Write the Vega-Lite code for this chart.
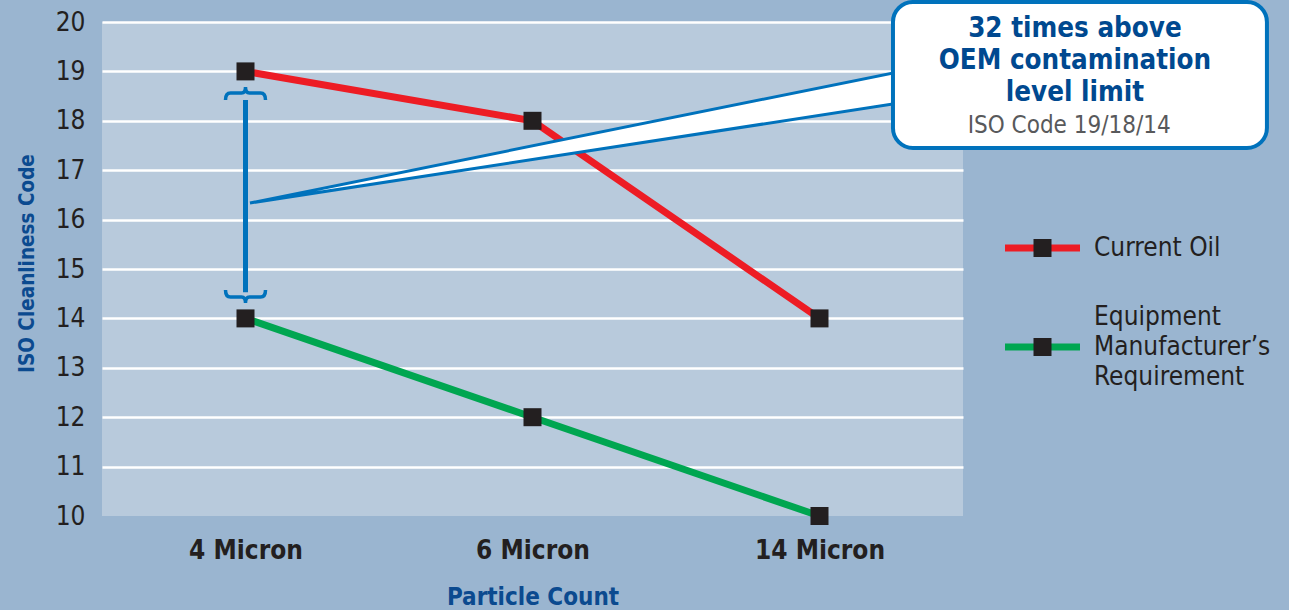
{
  "$schema": "https://vega.github.io/schema/vega-lite/v6.json",
  "width": 861,
  "height": 494,
  "autosize": {"type": "none"},
  "padding": {"left": 102, "top": 22, "right": 326, "bottom": 94},
  "background": "#9ab5d0",
  "config": {
    "view": {"fill": "#b8cadc", "stroke": null},
    "font": "Liberation Sans Narrow, DejaVu Sans Condensed, sans-serif"
  },
  "datasets": {
    "iso": [
      {"particle": "4 Micron", "series": "Current Oil", "code": 19},
      {"particle": "6 Micron", "series": "Current Oil", "code": 18},
      {"particle": "14 Micron", "series": "Current Oil", "code": 14},
      {"particle": "4 Micron", "series": "Equipment Manufacturer’s Requirement", "code": 14},
      {"particle": "6 Micron", "series": "Equipment Manufacturer’s Requirement", "code": 12},
      {"particle": "14 Micron", "series": "Equipment Manufacturer’s Requirement", "code": 10}
    ],
    "pointer": [
      {"px": 0.0157, "top": 16.336, "bottom": 16.336},
      {"px": 2.256, "top": 18.968, "bottom": 18.34}
    ]
  },
  "resolve": {"scale": {"x": "independent"}},
  "layer": [
    {
      "data": {"name": "iso"},
      "encoding": {
        "x": {
          "field": "particle", "type": "nominal", "sort": null,
          "scale": {"type": "point", "padding": 0.5},
          "axis": {
            "title": "Particle Count", "labelAngle": 0, "ticks": false, "domain": false,
            "labelFontSize": 26, "labelFontWeight": "bold", "labelColor": "#231f20",
            "labelPadding": 21, "titleFontSize": 24, "titleFontWeight": "bold",
            "titleColor": "#0b4a8f", "titlePadding": 22
          }
        },
        "y": {
          "field": "code", "type": "quantitative",
          "scale": {"domain": [10, 20], "nice": false, "zero": false},
          "axis": {
            "title": "ISO Cleanliness Code", "values": [10, 11, 12, 13, 14, 15, 16, 17, 18, 19, 20],
            "ticks": false, "domain": false, "labelFontSize": 26, "labelColor": "#231f20",
            "labelPadding": 17, "grid": true,
            "gridColor": {"condition": {"test": "datum.value === 10", "value": "transparent"}, "value": "#ffffff"},
            "gridWidth": 2.5, "titleFontSize": 20.5, "titleFontWeight": "bold",
            "titleColor": "#0b4a8f", "titlePadding": 18, "titleY": 241
          }
        }
      },
      "layer": [
        {
          "mark": {"type": "line", "strokeWidth": 7},
          "encoding": {
            "color": {
              "field": "series", "type": "nominal",
              "scale": {"domain": ["Current Oil", "Equipment Manufacturer’s Requirement"], "range": ["#ed1c24", "#00a651"]},
              "legend": {
                "title": null, "orient": "none", "legendX": 899.5, "legendY": 180,
                "symbolType": "stroke", "symbolSize": 5625, "symbolStrokeWidth": 7,
                "labelFontSize": 26, "labelColor": "#231f20", "labelOffset": 10.5, "labelLimit": 300,
                "labelExpr": "indexof(datum.label, 'Equipment') == 0 ? split(datum.label, ' ') : datum.label",
                "clipHeight": 92, "rowPadding": 7, "padding": 0, "zindex": 1,
                "encode": {"labels": {"update": {
                  "lineHeight": {"value": 30},
                  "dy": {"signal": "indexof(datum.label, 'Equipment') == 0 ? -30 : 0"}
                }}}
              }
            }
          }
        },
        {
          "mark": {"type": "point", "filled": true, "color": "#231f20", "size": 5625, "strokeWidth": 0, "opacity": 1},
          "encoding": {
            "shape": {
              "field": "series", "type": "nominal",
              "scale": {"range": ["M-0.24,-0.24H0.24V0.24H-0.24Z", "M-0.24,-0.24H0.24V0.24H-0.24Z"]},
              "legend": {
                "title": null, "orient": "none", "legendX": 903, "legendY": 180,
                "symbolSize": 5625, "symbolFillColor": "#231f20", "symbolStrokeWidth": 0,
                "labelFontSize": 26, "labelOffset": 14, "labelExpr": "''",
                "clipHeight": 92, "rowPadding": 7, "padding": 0, "zindex": 2
              }
            }
          }
        }
      ]
    },
    {
      "data": {"values": [{}]},
      "layer": [
        {
          "mark": {"type": "rule", "color": "#0072bc", "strokeWidth": 5},
          "encoding": {
            "x": {"datum": 0, "type": "quantitative", "scale": {"domain": [-0.5, 2.5], "nice": false, "zero": false}, "axis": null},
            "y": {"datum": 18.42, "type": "quantitative"},
            "y2": {"datum": 14.53}
          }
        },
        {
          "mark": {"type": "point", "shape": "M-1,0.35 Q-1,0 -0.75,0 L-0.2,0 Q0,0 0,-0.3 Q0,0 0.2,0 L0.75,0 Q1,0 1,0.35", "size": 1600, "filled": false, "stroke": "#0072bc", "strokeWidth": 3.5, "opacity": 1},
          "encoding": {
            "x": {"datum": 0, "type": "quantitative"},
            "y": {"datum": 18.563, "type": "quantitative"}
          }
        },
        {
          "mark": {"type": "point", "shape": "M-1,-0.35 Q-1,0 -0.75,0 L-0.2,0 Q0,0 0,0.3 Q0,0 0.2,0 L0.75,0 Q1,0 1,-0.35", "size": 1600, "filled": false, "stroke": "#0072bc", "strokeWidth": 3.5, "opacity": 1},
          "encoding": {
            "x": {"datum": 0, "type": "quantitative"},
            "y": {"datum": 14.433, "type": "quantitative"}
          }
        },
        {
          "data": {"name": "pointer"},
          "mark": {"type": "area", "fill": "#ffffff", "stroke": "#0072bc", "strokeWidth": 3, "opacity": 1},
          "encoding": {
            "x": {"field": "px", "type": "quantitative"},
            "y": {"field": "top", "type": "quantitative"},
            "y2": {"field": "bottom"}
          }
        },
        {
          "mark": {"type": "rect", "fill": "#ffffff", "stroke": "#0072bc", "strokeWidth": 4, "cornerRadius": 20},
          "encoding": {
            "x": {"datum": 2.256, "type": "quantitative"},
            "x2": {"datum": 3.559},
            "y": {"datum": 20.405, "type": "quantitative"},
            "y2": {"datum": 17.449}
          }
        },
        {
          "mark": {"type": "text", "text": ["32 times above", "OEM contamination", "level limit"], "fontSize": 27.5, "fontWeight": "bold", "color": "#004990", "align": "center", "baseline": "middle", "lineHeight": 32},
          "encoding": {
            "x": {"datum": 2.89, "type": "quantitative"},
            "y": {"datum": 19.85, "type": "quantitative"}
          }
        },
        {
          "mark": {"type": "text", "text": "ISO Code 19/18/14", "fontSize": 24, "color": "#58595b", "align": "center", "baseline": "middle"},
          "encoding": {
            "x": {"datum": 2.87, "type": "quantitative"},
            "y": {"datum": 17.9, "type": "quantitative"}
          }
        }
      ]
    }
  ]
}
